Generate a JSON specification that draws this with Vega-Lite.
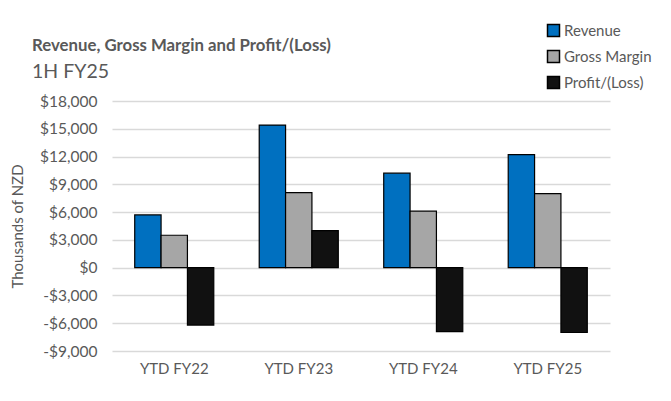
{
  "$schema": "https://vega.github.io/schema/vega-lite/v6.json",
  "autosize": {"type": "none"},
  "width": 498,
  "height": 250,
  "padding": {"left": 112, "top": 101, "right": 61, "bottom": 50},
  "background": "white",
  "title": {
    "text": "Revenue, Gross Margin and Profit/(Loss)",
    "subtitle": "1H FY25",
    "anchor": "start",
    "frame": "group",
    "dx": -80,
    "dy": 68,
    "font": "Lato",
    "fontSize": 16.8,
    "fontWeight": "bold",
    "color": "#595959",
    "subtitleFont": "Lato",
    "subtitleFontSize": 19.5,
    "subtitleColor": "#595959",
    "subtitlePadding": 8,
    "offset": 10
  },
  "data": {
    "values": [
      {"period": "YTD FY22", "series": "Revenue", "value": 5700},
      {"period": "YTD FY22", "series": "Gross Margin", "value": 3500},
      {"period": "YTD FY22", "series": "Profit/(Loss)", "value": -6200},
      {"period": "YTD FY23", "series": "Revenue", "value": 15400},
      {"period": "YTD FY23", "series": "Gross Margin", "value": 8100},
      {"period": "YTD FY23", "series": "Profit/(Loss)", "value": 4000},
      {"period": "YTD FY24", "series": "Revenue", "value": 10200},
      {"period": "YTD FY24", "series": "Gross Margin", "value": 6100},
      {"period": "YTD FY24", "series": "Profit/(Loss)", "value": -6900},
      {"period": "YTD FY25", "series": "Revenue", "value": 12200},
      {"period": "YTD FY25", "series": "Gross Margin", "value": 8000},
      {"period": "YTD FY25", "series": "Profit/(Loss)", "value": -7000}
    ]
  },
  "mark": {"type": "bar", "stroke": "black", "strokeWidth": 1.2},
  "encoding": {
    "x": {
      "field": "period",
      "type": "nominal",
      "sort": null,
      "scale": {"paddingInner": 0.365, "paddingOuter": 0.1825},
      "axis": {
        "title": null,
        "labelAngle": 0,
        "labelFont": "Lato",
        "labelFontSize": 15,
        "labelColor": "#595959",
        "labelPadding": 10,
        "domain": false,
        "ticks": false,
        "grid": false
      }
    },
    "xOffset": {
      "field": "series",
      "type": "nominal",
      "sort": ["Revenue", "Gross Margin", "Profit/(Loss)"],
      "scale": {"paddingInner": 0, "paddingOuter": 0}
    },
    "y": {
      "field": "value",
      "type": "quantitative",
      "scale": {"domain": [-9000, 18000], "nice": false, "zero": true},
      "axis": {
        "title": "Thousands of NZD",
        "titleFont": "Lato",
        "titleFontSize": 15,
        "titleFontWeight": "normal",
        "titleColor": "#595959",
        "titlePadding": 14,
        "values": [-9000, -6000, -3000, 0, 3000, 6000, 9000, 12000, 15000, 18000],
        "format": "$,d",
        "labelExpr": "replace(datum.label, '\u2212', '-')",
        "labelFont": "Lato",
        "labelFontSize": 15.5,
        "labelColor": "#595959",
        "labelPadding": 15,
        "domain": false,
        "ticks": false,
        "gridColor": "#D9D9D9",
        "gridWidth": 1.5
      }
    },
    "color": {
      "field": "series",
      "type": "nominal",
      "sort": ["Revenue", "Gross Margin", "Profit/(Loss)"],
      "scale": {
        "domain": ["Revenue", "Gross Margin", "Profit/(Loss)"],
        "range": ["#0070C0", "#A6A6A6", "#111111"]
      },
      "legend": {
        "title": null,
        "orient": "none",
        "legendX": 434,
        "legendY": -78,
        "padding": 0,
        "symbolType": "square",
        "symbolSize": 144,
        "symbolStrokeColor": "black",
        "symbolStrokeWidth": 1.5,
        "labelFont": "Lato",
        "labelFontSize": 15,
        "labelColor": "#595959",
        "labelOffset": 3,
        "rowPadding": 7
      }
    }
  },
  "config": {"view": {"stroke": null}}
}
